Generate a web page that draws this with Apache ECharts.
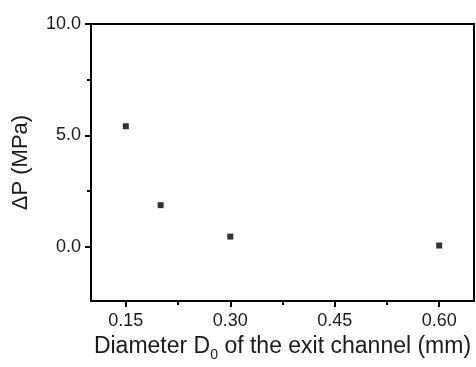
<!DOCTYPE html>
<html><head><meta charset="utf-8">
<script src="https://cdn.jsdelivr.net/npm/echarts@6/dist/echarts.min.js"></script>
<style>html,body{margin:0;padding:0;background:#fff}#c{width:476px;height:367px}</style>
</head><body><div id="c"></div>
<script>
var diameters = [0.15, 0.20, 0.30, 0.60];
var deltaP = [5.41, 1.87, 0.46, 0.06];
var xMajorTicks = [0.15, 0.30, 0.45, 0.60];
var xMinorTicks = [0.225, 0.375, 0.525];
var yMajorTicks = [0.0, 5.0, 10.0];
var yMinorTicks = [2.5, 7.5];

var font = 'Liberation Sans, Arial, sans-serif';
var txt = '#1a1a1a';
var chart = echarts.init(document.getElementById('c'), null, {renderer: 'canvas'});
var xRange = {min: 0.10, max: 0.65};
var yRange = {min: -2.43, max: 10};
chart.setOption({
  animation: false,
  grid: {left: 91, top: 24, right: 2, bottom: 62, show: true, borderColor: '#000', borderWidth: 2, containLabel: false},
  xAxis: [{
    type: 'value', min: xRange.min, max: xRange.max, position: 'bottom',
    axisLine: {show: true, onZero: false, lineStyle: {color: '#000', width: 2}},
    axisTick: {show: true, inside: false, length: 6, lineStyle: {color: '#000', width: 2}, customValues: xMajorTicks},
    axisLabel: {show: true, margin: 11, fontSize: 18, fontFamily: font, color: txt, customValues: xMajorTicks,
      formatter: function (v) { return v.toFixed(2); }},
    splitLine: {show: false},
    name: '{a|Diameter D}{s|0}{a| of the exit channel (mm)}',
    nameLocation: 'middle', nameGap: 31,
    nameTextStyle: {rich: {
      a: {fontSize: 23, fontFamily: font, color: txt},
      s: {fontSize: 14, fontFamily: font, color: txt, padding: [16, 0, 0, 0]}
    }}
  }, {
    type: 'value', min: xRange.min, max: xRange.max, position: 'bottom',
    axisLine: {show: false, onZero: false},
    axisTick: {show: true, inside: false, length: 4, lineStyle: {color: '#000', width: 2}, customValues: xMinorTicks},
    axisLabel: {show: false}, splitLine: {show: false}
  }],
  yAxis: [{
    type: 'value', min: yRange.min, max: yRange.max, position: 'left',
    axisLine: {show: true, onZero: false, lineStyle: {color: '#000', width: 2}},
    axisTick: {show: true, inside: false, length: 6, lineStyle: {color: '#000', width: 2}, customValues: yMajorTicks},
    axisLabel: {show: true, margin: 10, fontSize: 18, fontFamily: font, color: txt, customValues: yMajorTicks,
      formatter: function (v) { return v.toFixed(1); }},
    splitLine: {show: false},
    name: 'ΔP (MPa)', nameLocation: 'middle', nameGap: 59, nameRotate: 90,
    nameTextStyle: {fontSize: 22, fontFamily: font, color: txt}
  }, {
    type: 'value', min: yRange.min, max: yRange.max, position: 'left',
    axisLine: {show: false, onZero: false},
    axisTick: {show: true, inside: false, length: 4, lineStyle: {color: '#000', width: 2}, customValues: yMinorTicks},
    axisLabel: {show: false}, splitLine: {show: false}
  }],
  series: [{
    type: 'scatter', xAxisIndex: 0, yAxisIndex: 0,
    symbol: 'rect', symbolSize: 6,
    itemStyle: {color: '#000'},
    data: diameters.map(function (d, i) { return [d, deltaP[i]]; })
  }]
});
</script></body></html>
